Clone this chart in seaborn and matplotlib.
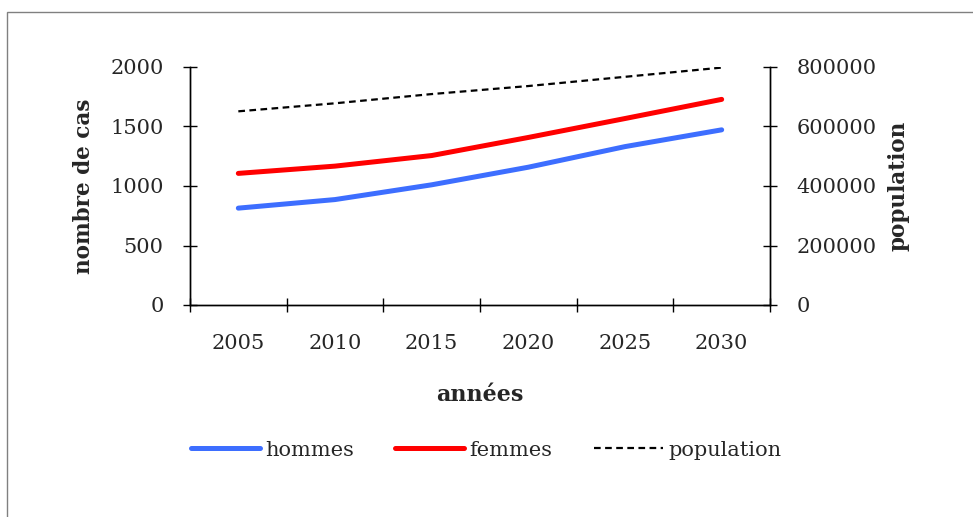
import matplotlib
matplotlib.use("Agg")
import matplotlib.pyplot as plt
import seaborn as sns
import pandas as pd
from matplotlib.patches import Rectangle
from matplotlib.ticker import FixedLocator, NullFormatter

years = ["2005", "2010", "2015", "2020", "2025", "2030"]
hommes = [814, 886, 1010, 1158, 1331, 1472]
femmes = [1106, 1167, 1256, 1408, 1567, 1728]
population = [651000, 678000, 709000, 736000, 767000, 798000]

sns.set_theme(style="white")
plt.rcParams['font.family'] = ['DejaVu Serif']

df = pd.DataFrame({"x": range(len(years)), "hommes": hommes, "femmes": femmes, "population": population})

W, H = 973, 517
fig = plt.figure(figsize=(W / 100, H / 100), dpi=100)
ax = fig.add_axes([190 / W, 1 - 305 / H, 580 / W, 238 / H])
ax2 = ax.twinx()

sns.lineplot(data=df, x="x", y="hommes", ax=ax, color="#3D6EFF", linewidth=3.6,
             solid_capstyle="round", label="hommes", legend=False)
sns.lineplot(data=df, x="x", y="femmes", ax=ax, color="#FF0000", linewidth=3.6,
             solid_capstyle="round", label="femmes", legend=False)
sns.lineplot(data=df, x="x", y="population", ax=ax2, color="black", linewidth=1.6,
             dashes=False, label="population", legend=False)
ax2.lines[0].set_linestyle((0, (3, 2)))

ax.set_xlim(-0.5, 5.5)
ax.set_ylim(0, 2000)
ax2.set_ylim(0, 800000)
ax.set_yticks([0, 500, 1000, 1500, 2000])
ax2.set_yticks([0, 200000, 400000, 600000, 800000])
ax2.set_yticklabels(["0", "200000", "400000", "600000", "800000"])

ax.xaxis.set_major_locator(FixedLocator([i - 0.5 for i in range(7)]))
ax.xaxis.set_major_formatter(NullFormatter())
ax.set_xticks(list(range(6)), labels=years, minor=True)

for a in (ax, ax2):
    for s in a.spines.values():
        s.set_color("black")
        s.set_linewidth(1.0)
    a.spines["top"].set_visible(False)
    a.grid(False)
    a.set_facecolor("none")

FS = 15
ax.tick_params(axis="x", which="major", direction="inout", length=10, width=1, color="black", bottom=True)
ax.tick_params(axis="x", which="minor", length=0, pad=21, labelsize=FS, bottom=True)
ax.tick_params(axis="y", direction="inout", length=10, width=1, color="black", pad=14, labelsize=FS, left=True)
ax2.tick_params(axis="y", direction="inout", length=10, width=1, color="black", pad=14, labelsize=FS, right=True)

ax.set_xlabel("années", fontsize=16, fontweight="bold", labelpad=22)
ax.set_ylabel("nombre de cas", fontsize=15.5, fontweight="bold", labelpad=11)
ax2.set_ylabel("population", fontsize=15.5, fontweight="bold", labelpad=8)

handles = ax.get_lines()[:2] + ax2.get_lines()[:1]
fig.legend(handles, ["hommes", "femmes", "population"], loc="center",
           bbox_to_anchor=(486 / W, 1 - 450 / H), ncol=3, frameon=False,
           fontsize=FS, handlelength=3.3, handletextpad=0.25, columnspacing=2.0)

fig.patches.append(Rectangle((7 / W, -0.1), 1.2, 1 - 12 / H + 0.1, transform=fig.transFigure,
                             fill=False, edgecolor="#808080", linewidth=1.0))

fig.savefig("out.png", dpi=100)
